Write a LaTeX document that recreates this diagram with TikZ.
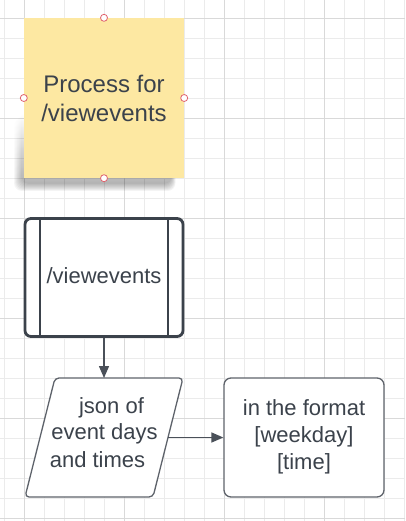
\documentclass[tikz,border=0pt]{standalone}
\usepackage{fontspec}
\setmainfont{Liberation Sans}
\usetikzlibrary{arrows.meta,fadings}
\definecolor{txt}{HTML}{3B424B}
\definecolor{edge}{HTML}{4A5059}
\definecolor{thin}{HTML}{5E636B}
\definecolor{sticky}{HTML}{FDE8A2}
\definecolor{gridminor}{HTML}{EBEBEB}
\definecolor{gridmajor}{HTML}{D9D9D9}
\definecolor{handle}{HTML}{E0636E}
\tikzset{
  lbl/.style={text=txt, align=center, font=\fontsize{22pt}{27pt}\selectfont, inner sep=0pt},
  conn/.style={draw=edge, line width=1.4pt, -{Triangle[length=12pt,width=10pt]}},
  handlept/.style={circle, draw=handle, fill=white, line width=0.8pt, minimum size=7pt, inner sep=0pt},
  thinbox/.style={draw=thin, line width=1.3pt, fill=white},
}
\begin{document}
\begin{tikzpicture}[x=1pt,y=-1pt]
\useasboundingbox (0,0) rectangle (405,521);
\fill[white] (0,0) rectangle (405,521);
% grid
\foreach \i in {0,...,20} {
  \pgfmathtruncatemacro{\xx}{4+20*\i}
  \draw[gridminor, line width=0.8pt] (\xx,0) -- (\xx,521);
}
\foreach \j in {0,...,25} {
  \pgfmathtruncatemacro{\yy}{18+20*\j}
  \draw[gridminor, line width=0.8pt] (0,\yy) -- (405,\yy);
}
\foreach \xx in {24,124,224,324} \draw[gridmajor, line width=0.9pt] (\xx,0) -- (\xx,521);
\foreach \yy in {18,118,218,318,418,518} \draw[gridmajor, line width=0.9pt] (0,\yy) -- (405,\yy);

% sticky note shadow
\foreach \d in {0,...,7} {
  \fill[black, opacity=0.045, path fading=north, rounded corners=8pt]
    (21-\d, 110+\d) rectangle (172+0.5*\d, 184+\d);
}
% sticky note
\node[fill=sticky, minimum width=160pt, minimum height=160pt, inner sep=0pt] (note) at (104,98) {};
\node[lbl, font=\fontsize{24pt}{29pt}\selectfont] (notetext) at (104,98) {Process for\\/viewevents};
\node[handlept] (hn) at (note.north) {};
\node[handlept] (hs) at (note.south) {};
\node[handlept] (hw) at (note.west) {};
\node[handlept] (he) at (note.east) {};

% subroutine box
\node[draw=txt, line width=2.8pt, rounded corners=6pt, fill=white,
      minimum width=158pt, minimum height=118pt, inner sep=0pt] (sub) at (104,277.5) {};
\draw[txt, line width=2.8pt] (40,217) -- (40,338) (168,217) -- (168,338);
\node[lbl] (subtext) at (104,276) {/viewevents};

% parallelogram
\coordinate (paraN) at (104,378);
\coordinate (paraE) at (168,437.5);
\draw[thinbox, rounded corners=4pt] (55,378) -- (183,378) -- (153,497) -- (25,497) -- cycle;
\node[lbl] (paral1) at (111.5,408) {json of};
\node[lbl] (paral2) at (104.5,434) {event days};
\node[lbl] (paral3) at (97.5,460) {and times};

% rectangle
\node[thinbox, rounded corners=7pt, minimum width=160pt, minimum height=119pt, inner sep=0pt]
  (fmt) at (304,437.5) {};
\node[lbl] (fmttext) at (304,437) {in the format\\{[weekday]}\\{[time]}};

% connectors
\draw[conn] (sub.south) -- (paraN);
\draw[conn] (paraE) -- (fmt.west);
\end{tikzpicture}
\end{document}
